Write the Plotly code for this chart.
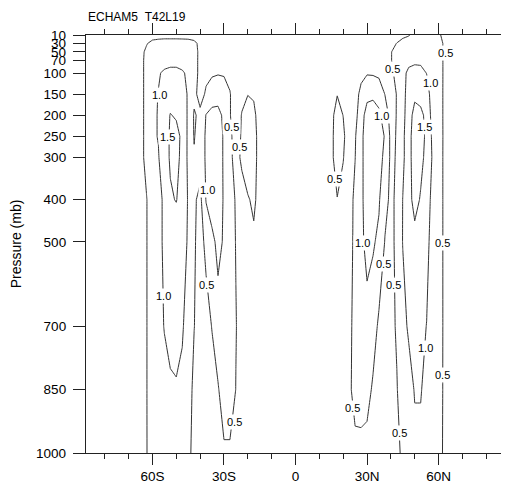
import plotly.graph_objects as go

# Latitude grid (deg; negative = south)
lat_sh = [-87.86, -70, -67.5, -65, -62.5, -60, -57.5, -55, -52.5, -50, -47.5, -45,
          -42.5, -40, -37.5, -35, -32.5, -30, -27.5, -25, -22.5, -20, -17.5, -15, -12.5]
lat_eq = [0]
lat_nh = [12.5, 15, 17.5, 20, 22.5, 25, 27.5, 30, 32.5, 35, 37.5, 40, 42.5, 45,
          47.5, 50, 52.5, 55, 57.5, 60, 62.5, 65, 67.5, 70, 87.86]

# Pressure levels (mb)
levels = [10, 30, 50, 70, 100, 150, 200, 250, 300, 400, 500, 700, 850, 1000]

# Southern hemisphere values, one list per level
sh10 = [0.05, 0.1, 0.12, 0.13, 0.15, 0.2, 0.25, 0.25, 0.25, 0.25, 0.25, 0.25, 0.22, 0.15, 0.12, 0.12, 0.12, 0.12, 0.12, 0.1, 0.1, 0.1, 0.1, 0.1, 0.1]
sh30 = [0.05, 0.1, 0.15, 0.2, 0.45, 0.7, 0.75, 0.8, 0.8, 0.8, 0.78, 0.75, 0.65, 0.34, 0.25, 0.2, 0.18, 0.15, 0.15, 0.15, 0.15, 0.15, 0.15, 0.15, 0.15]
sh50 = [0.05, 0.1, 0.2, 0.3, 0.63, 0.8, 0.85, 0.9, 0.9, 0.9, 0.88, 0.85, 0.7, 0.37, 0.3, 0.28, 0.28, 0.25, 0.22, 0.2, 0.2, 0.2, 0.2, 0.2, 0.2]
sh70 = [0.05, 0.1, 0.2, 0.3, 0.68, 0.82, 0.86, 0.88, 0.88, 0.88, 0.87, 0.85, 0.72, 0.35, 0.35, 0.38, 0.4, 0.38, 0.3, 0.25, 0.22, 0.2, 0.2, 0.2, 0.2]
sh100 = [0.05, 0.1, 0.2, 0.3, 0.68, 0.9, 0.97, 1.05, 1.1, 1.1, 1.04, 0.94, 0.72, 0.35, 0.4, 0.44, 0.47, 0.45, 0.4, 0.3, 0.25, 0.25, 0.22, 0.2, 0.2]
sh150 = [0.05, 0.1, 0.2, 0.3, 0.68, 0.92, 1.01, 1.15, 1.3, 1.3, 1.2, 0.95, 0.62, 0.33, 0.56, 0.75, 0.8, 0.75, 0.52, 0.3, 0.4, 0.48, 0.45, 0.3, 0.2]
sh200 = [0.05, 0.1, 0.2, 0.3, 0.68, 0.93, 1.02, 1.25, 1.52, 1.45, 1.25, 0.94, 0.45, 0.6, 1.02, 1.15, 1.15, 0.9, 0.52, 0.3, 0.52, 0.8, 0.6, 0.3, 0.2]
sh250 = [0.05, 0.1, 0.2, 0.3, 0.68, 0.93, 1.02, 1.35, 1.54, 1.65, 1.4, 0.9, 0.47, 0.75, 1.06, 1.2, 1.2, 0.95, 0.6, 0.3, 0.55, 0.85, 0.7, 0.28, 0.2]
sh300 = [0.05, 0.1, 0.2, 0.3, 0.68, 0.93, 0.97, 1.3, 1.55, 1.62, 1.39, 0.9, 0.55, 0.75, 1.06, 1.2, 1.2, 0.95, 0.62, 0.32, 0.59, 0.85, 0.7, 0.28, 0.2]
sh400 = [0.05, 0.1, 0.15, 0.25, 0.47, 0.85, 0.95, 1.03, 1.45, 1.52, 1.3, 0.96, 0.58, 0.36, 1.03, 1.2, 1.2, 0.96, 0.75, 0.45, 0.3, 0.45, 0.6, 0.3, 0.2]
sh500 = [0.05, 0.1, 0.15, 0.25, 0.47, 0.85, 0.95, 1.03, 1.15, 1.2, 1.15, 0.96, 0.56, 0.3, 0.63, 0.9, 1.1, 0.96, 0.75, 0.48, 0.3, 0.35, 0.4, 0.3, 0.2]
sh700 = [0.05, 0.1, 0.15, 0.25, 0.47, 0.85, 0.92, 1.01, 1.1, 1.12, 1.05, 0.8, 0.51, 0.3, 0.3, 0.52, 0.85, 0.9, 0.8, 0.52, 0.3, 0.3, 0.3, 0.25, 0.2]
sh850 = [0.05, 0.1, 0.15, 0.25, 0.47, 0.85, 0.9, 0.92, 0.95, 0.97, 0.9, 0.75, 0.36, 0.3, 0.28, 0.3, 0.45, 0.8, 0.8, 0.49, 0.3, 0.25, 0.25, 0.22, 0.2]
sh1000 = [0.05, 0.1, 0.15, 0.25, 0.47, 0.8, 0.85, 0.85, 0.85, 0.85, 0.8, 0.7, 0.25, 0.25, 0.25, 0.3, 0.38, 0.42, 0.42, 0.35, 0.25, 0.2, 0.2, 0.2, 0.2]

# Equator values per level
eq = [0.1, 0.1, 0.1, 0.1, 0.1, 0.1, 0.1, 0.1, 0.1, 0.1, 0.1, 0.1, 0.1, 0.1]

# Northern hemisphere values, one list per level
nh10 = [0.1, 0.1, 0.1, 0.1, 0.1, 0.1, 0.1, 0.1, 0.1, 0.1, 0.1, 0.1, 0.2, 0.3, 0.45, 0.75, 0.8, 0.8, 0.75, 0.6, 0.32, 0.2, 0.1, 0.08, 0.05]
nh30 = [0.15, 0.15, 0.15, 0.15, 0.15, 0.15, 0.15, 0.15, 0.15, 0.15, 0.2, 0.3, 0.52, 0.8, 0.85, 0.9, 0.9, 0.9, 0.85, 0.75, 0.4, 0.25, 0.15, 0.1, 0.05]
nh50 = [0.2, 0.2, 0.2, 0.2, 0.2, 0.2, 0.2, 0.2, 0.2, 0.2, 0.25, 0.45, 0.85, 0.9, 0.92, 0.95, 0.95, 0.95, 0.9, 0.8, 0.38, 0.25, 0.15, 0.1, 0.05]
nh70 = [0.2, 0.2, 0.2, 0.2, 0.2, 0.22, 0.25, 0.3, 0.3, 0.28, 0.25, 0.45, 0.85, 0.88, 0.9, 0.92, 0.92, 0.9, 0.88, 0.82, 0.38, 0.25, 0.15, 0.1, 0.05]
nh100 = [0.2, 0.22, 0.3, 0.25, 0.25, 0.3, 0.4, 0.47, 0.45, 0.4, 0.35, 0.4, 0.63, 0.9, 1.08, 1.15, 1.12, 0.99, 0.93, 0.82, 0.38, 0.25, 0.15, 0.1, 0.05]
nh150 = [0.2, 0.3, 0.48, 0.4, 0.3, 0.35, 0.6, 0.8, 0.88, 0.8, 0.49, 0.4, 0.51, 0.9, 1.13, 1.35, 1.35, 1.2, 0.78, 0.8, 0.38, 0.25, 0.15, 0.1, 0.05]
nh200 = [0.2, 0.35, 0.72, 0.49, 0.3, 0.4, 0.68, 1.3, 1.3, 1.1, 0.74, 0.34, 0.52, 0.9, 1.18, 1.75, 1.6, 1.39, 0.78, 0.8, 0.38, 0.25, 0.15, 0.1, 0.05]
nh250 = [0.2, 0.35, 0.8, 0.6, 0.2, 0.45, 0.95, 1.1, 1.3, 1.2, 0.97, 0.38, 0.53, 0.9, 1.3, 1.8, 1.7, 1.39, 0.9, 0.82, 0.38, 0.25, 0.15, 0.1, 0.05]
nh300 = [0.2, 0.35, 0.8, 0.52, 0.25, 0.49, 0.95, 1.1, 1.25, 1.15, 0.9, 0.4, 0.54, 0.9, 1.3, 1.8, 1.65, 1.34, 0.95, 0.85, 0.36, 0.25, 0.15, 0.1, 0.05]
nh400 = [0.2, 0.3, 0.48, 0.35, 0.3, 0.61, 0.9, 1.2, 1.2, 1.05, 0.63, 0.41, 0.58, 1.01, 1.3, 1.7, 1.45, 1.2, 0.87, 0.8, 0.38, 0.25, 0.15, 0.1, 0.05]
nh500 = [0.2, 0.25, 0.3, 0.3, 0.35, 0.6, 0.9, 1.13, 1.05, 0.91, 0.48, 0.42, 0.57, 1.02, 1.2, 1.3, 1.25, 1.15, 0.78, 0.8, 0.38, 0.25, 0.15, 0.1, 0.05]
nh700 = [0.2, 0.25, 0.28, 0.3, 0.35, 0.69, 0.85, 0.85, 0.75, 0.4, 0.35, 0.4, 0.54, 0.8, 1.09, 1.15, 1.12, 0.99, 0.85, 0.8, 0.38, 0.25, 0.15, 0.1, 0.05]
nh850 = [0.2, 0.22, 0.25, 0.3, 0.35, 0.77, 0.8, 0.7, 0.42, 0.35, 0.3, 0.35, 0.48, 0.7, 0.75, 1.04, 1.04, 0.8, 0.8, 0.78, 0.38, 0.25, 0.15, 0.1, 0.05]
nh1000 = [0.2, 0.2, 0.22, 0.25, 0.28, 0.3, 0.3, 0.3, 0.3, 0.3, 0.28, 0.3, 0.4, 0.58, 0.75, 0.85, 0.85, 0.8, 0.78, 0.75, 0.37, 0.25, 0.15, 0.1, 0.05]

# Contour labels as drawn in the reference (value text, latitude, pressure)
label_text = ["1.0", "1.5", "0.5", "0.5", "1.0", "0.5", "1.0", "0.5",
              "0.5", "0.5", "0.5", "1.0", "1.0", "1.5", "1.0", "0.5",
              "0.5", "0.5", "1.0", "0.5", "0.5", "0.5"]
label_lat = [-57.2, -53.7, -26.7, -23.3, -36.7, -37.2, -55.4, -25.4,
             16.3, 40.8, 62.9, 36.0, 56.6, 54.1, 28.3, 36.7,
             41.1, 61.8, 54.5, 61.8, 24.1, 43.6]
label_p = [152, 252, 228, 275, 377, 602, 628, 926,
           351, 91, 52, 202, 124, 227, 502, 552,
           602, 502, 752, 815, 893, 953]

x_tickvals = [-60, -30, 0, 30, 60]
x_ticktext = ["60S", "30S", "0", "30N", "60N"]
y_ticks = [10, 30, 50, 70, 100, 150, 200, 250, 300, 400, 500, 700, 850, 1000]

sh_rows = [sh10, sh30, sh50, sh70, sh100, sh150, sh200, sh250, sh300, sh400, sh500, sh700, sh850, sh1000]
nh_rows = [nh10, nh30, nh50, nh70, nh100, nh150, nh200, nh250, nh300, nh400, nh500, nh700, nh850, nh1000]

lats = lat_sh + lat_eq + lat_nh
z = [s + [e] + n for s, e, n in zip(sh_rows, eq, nh_rows)]

FONT = "Liberation Sans, Arial, Helvetica, sans-serif"
AX = "#222222"

fig = go.Figure()
fig.add_trace(go.Contour(
    x=lats, y=levels, z=z,
    contours=dict(start=0.5, end=1.5, size=0.5, coloring="lines", showlabels=False),
    colorscale=[[0, "#333333"], [1, "#333333"]],
    line=dict(width=1, smoothing=0),
    showscale=False, hoverinfo="skip",
))

annotations = [dict(text="ECHAM5\u00a0\u00a0T42L19", xref="paper", yref="paper",
                    x=0, y=1.043, xanchor="left", yanchor="middle",
                    showarrow=False, font=dict(size=12, family=FONT))]
for t, la, pr in zip(label_text, label_lat, label_p):
    annotations.append(dict(text=t, x=la, y=pr, xref="x", yref="y",
                            showarrow=False, bgcolor="white", borderpad=1,
                            font=dict(size=11, family=FONT, color="black")))

# The page body adds an 8 px offset, so the figure is sized to fit the window.
fig.update_layout(
    width=501, height=483,
    margin=dict(l=78, r=4, t=27, b=38, autoexpand=False),
    paper_bgcolor="white", plot_bgcolor="white",
    font=dict(family=FONT, size=13.5, color="black"),
    showlegend=False,
    xaxis=dict(range=[-87.86, 87.86], tickvals=x_tickvals, ticktext=x_ticktext,
               ticks="outside", ticklen=11, tickwidth=1.2, tickcolor=AX,
               minor=dict(dtick=10, tick0=0, ticks="outside", ticklen=5,
                          tickwidth=1, tickcolor=AX),
               showline=True, linecolor=AX, linewidth=1.3, mirror="ticks",
               showgrid=False, zeroline=False, automargin=False,
               tickfont=dict(size=13.5)),
    yaxis=dict(range=[1000, 10], tickvals=y_ticks, ticktext=[str(v) for v in y_ticks],
               ticks="outside", ticklen=12, tickwidth=1.2, tickcolor=AX,
               showline=True, linecolor=AX, linewidth=1.3, mirror="ticks",
               showgrid=False, zeroline=False, automargin=False,
               ticklabelstandoff=4,
               tickfont=dict(size=13.5),
               title=dict(text="Pressure (mb)", font=dict(size=14), standoff=12)),
    annotations=annotations,
)

fig.write_html("out.html")
